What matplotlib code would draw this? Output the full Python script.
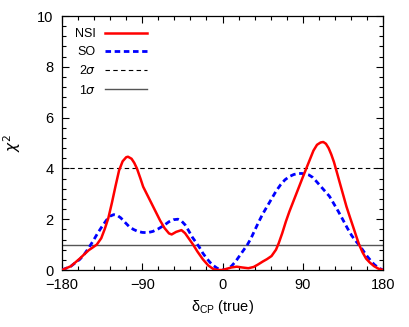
import numpy as np
import matplotlib
matplotlib.use("Agg")
import matplotlib.pyplot as plt
from matplotlib.ticker import MultipleLocator

plt.rcParams['font.family'] = ['Liberation Sans', 'DejaVu Sans']

# chi^2 vs true delta_CP
delta_nsi = [-180, -170, -160, -155, -150, -145, -141, -136, -132, -128, -124, -120,
             -116, -112, -108, -106, -102, -99, -96, -92, -89, -85, -80, -75, -70,
             -65, -60, -57, -52, -46, -42, -38, -33, -28, -22, -16, -10, -5, 0,
             5, 10, 16, 22, 29, 35, 40, 45, 50, 55, 60, 63, 67, 71, 75, 80, 85,
             90, 94, 98, 102, 106, 110, 113, 116, 119, 122, 125, 128, 131, 135,
             139, 143, 147, 150, 153, 157, 161, 165, 170, 175, 180]
chi2_nsi = [0.0, 0.15, 0.45, 0.62, 0.78, 0.9, 1.0, 1.25, 1.62, 2.05, 2.65, 3.3,
            3.92, 4.28, 4.44, 4.46, 4.38, 4.22, 4.0, 3.6, 3.28, 3.0, 2.65, 2.3, 1.95,
            1.65, 1.44, 1.4, 1.5, 1.57, 1.45, 1.25, 1.0, 0.72, 0.42, 0.18, 0.03, 0.0, 0.0,
            0.05, 0.1, 0.13, 0.1, 0.07, 0.12, 0.22, 0.33, 0.43, 0.55, 0.8, 1.05, 1.45, 1.9, 2.3, 2.75, 3.2,
            3.65, 4.0, 4.35, 4.7, 4.93, 5.02, 5.04, 4.97, 4.8, 4.55, 4.25, 3.88, 3.5, 3.0,
            2.5, 2.07, 1.65, 1.33, 1.02, 0.7, 0.45, 0.3, 0.15, 0.05, 0.0]

delta_so = [-180, -170, -160, -155, -150, -145, -140, -135, -130, -126, -122, -118,
            -114, -110, -105, -100, -95, -90, -84, -78, -72, -66, -60, -55, -50,
            -46, -42, -38, -34, -30, -26, -22, -18, -14, -10, -6, -2, 1, 5, 10,
            15, 20, 24, 28, 32, 36, 40, 45, 50, 55, 60, 65, 70, 75, 80, 85, 89,
            93, 97, 101, 105, 110, 115, 120, 125, 130, 135, 140, 145, 150, 154,
            158, 162, 166, 170, 175, 180]
chi2_so = [0.0, 0.15, 0.42, 0.62, 0.87, 1.15, 1.45, 1.72, 1.97, 2.12, 2.18, 2.15,
           2.05, 1.9, 1.72, 1.6, 1.52, 1.48, 1.47, 1.52, 1.62, 1.75, 1.9, 1.98, 2.0,
           1.93, 1.78, 1.55, 1.3, 1.1, 0.9, 0.66, 0.47, 0.3, 0.17, 0.07, 0.01, 0.0, 0.03, 0.15,
           0.35, 0.6, 0.8, 1.0, 1.25, 1.55, 1.85, 2.2, 2.5, 2.8, 3.1, 3.35, 3.55, 3.68, 3.76, 3.8, 3.8,
           3.78, 3.74, 3.65, 3.5, 3.3, 3.1, 2.9, 2.6, 2.3, 1.98, 1.65, 1.35, 1.12, 0.95,
           0.75, 0.55, 0.38, 0.22, 0.08, 0.0]

cl_2sigma = 4.0
cl_1sigma = 1.0

fig = plt.figure(figsize=(4.09, 3.27), dpi=100)
ax = fig.add_axes([62/409, 57/327, 321/409, 254/327])

ax.axhline(cl_2sigma, color='black', lw=0.8, ls=(0, (4, 3)), label=r'2$\sigma$', zorder=2)
ax.axhline(cl_1sigma, color='#555555', lw=1.0, ls='-', label=r'1$\sigma$', zorder=2)
ax.plot(delta_so, chi2_so, color='#0000ff', lw=2.0, ls=(0, (2, 1.3)), label='SO', zorder=3)
ax.plot(delta_nsi, chi2_nsi, color='#ff0000', lw=1.8, ls='-', label='NSI', zorder=4)

ax.set_xlim(-180, 180)
ax.set_ylim(0, 10)
ax.xaxis.set_major_locator(MultipleLocator(90))
ax.xaxis.set_minor_locator(MultipleLocator(18))
ax.yaxis.set_major_locator(MultipleLocator(2))
ax.yaxis.set_minor_locator(MultipleLocator(0.4))
ax.tick_params(which='both', direction='in', top=True, right=True, labelsize=10.5)
ax.tick_params(which='major', length=5, width=0.8, pad=6)
ax.tick_params(which='minor', length=3, width=0.8)
for s in ax.spines.values():
    s.set_linewidth(0.9)

ax.set_xlabel(r'$\mathregular{\delta_{CP}}$ (true)', fontsize=10.5, labelpad=4)
ax.set_ylabel(r'$\chi^2$', fontsize=11, labelpad=10)

h, l = ax.get_legend_handles_labels()
order = [3, 2, 0, 1]
ax.legend([h[i] for i in order], [l[i] for i in order], loc='upper right',
          bbox_to_anchor=(85/321, 0.953), frameon=False, markerfirst=False,
          fontsize=9, handlelength=3.4, handletextpad=0.7, labelspacing=0.5,
          borderpad=0, borderaxespad=0)

fig.savefig('out.png', dpi=100)
